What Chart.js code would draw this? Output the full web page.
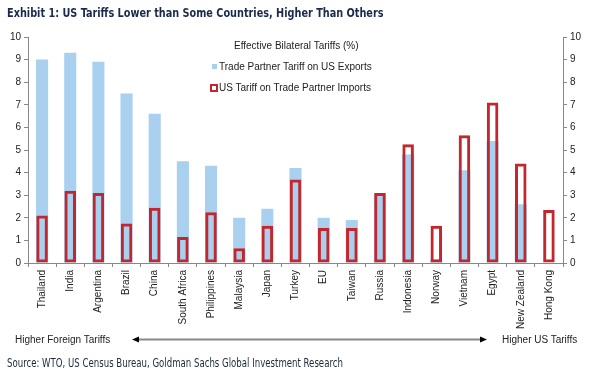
<!DOCTYPE html>
<html>
<head>
<meta charset="utf-8">
<script src="https://cdn.jsdelivr.net/npm/chart.js@4"></script>
<style>
  body { margin: 0; background: #fff; }
  #wrap { position: relative; width: 597px; height: 373px; overflow: hidden; }
  #chart { position: absolute; left: 0; top: 0; }
  .txt { position: absolute; white-space: nowrap; }
  #title { left: 7px; top: 5px; font: bold 13px "DejaVu Sans Condensed", sans-serif; color: #1b2a4a; transform: scaleX(0.83); transform-origin: 0 0; }
  #legend { left: 206px; top: 40px; font: 10px "Liberation Sans", Arial, sans-serif; color: #222; }
  #legend .hd { position: absolute; left: 28px; top: 0; }
  #legend .it { position: absolute; left: 0; }
  .sq1 { display: inline-block; width: 5px; height: 5px; background: #aad0f0; margin: 0 2px 1px 6px; }
  .sq2 { display: inline-block; width: 4px; height: 4px; border: 2px solid #c1272d; margin: 0 1px 0 4px; vertical-align: -1px; }
  .note { top: 334px; font: 10px "Liberation Sans", Arial, sans-serif; color: #222; }
  #src { left: 7px; top: 356px; font: 11.5px "DejaVu Sans Condensed", sans-serif; color: #1b2a3a; transform: scaleX(0.83); transform-origin: 0 0; }
  #arrow { position: absolute; left: 0; top: 0; }
</style>
</head>
<body>
<div id="wrap">
  <canvas id="chart" width="597" height="373"></canvas>
  <div class="txt" id="title">Exhibit 1: US Tariffs Lower than Some Countries, Higher Than Others</div>
  <div class="txt" id="legend">
    <div class="hd">Effective Bilateral Tariffs (%)</div>
    <div class="it" style="top:21px"><span class="sq1"></span>Trade Partner Tariff on US Exports</div>
    <div class="it" style="top:42px"><span class="sq2"></span>US Tariff on Trade Partner Imports</div>
  </div>
  <div class="txt note" style="left:15px">Higher Foreign Tariffs</div>
  <div class="txt note" style="left:502px">Higher US Tariffs</div>
  <svg id="arrow" width="597" height="373">
    <line x1="136" y1="339.5" x2="482" y2="339.5" stroke="#888" stroke-width="2"/>
    <polygon points="132,339.5 139,336.5 139,342.5" fill="#000"/>
    <polygon points="487,339.5 480,336.5 480,342.5" fill="#000"/>
  </svg>
  <div class="txt" id="src">Source: WTO, US Census Bureau, Goldman Sachs Global Investment Research</div>
</div>
<script>
const countries = ['Thailand', 'India', 'Argentina', 'Brazil', 'China', 'South Africa', 'Philippines',
  'Malaysia', 'Japan', 'Turkey', 'EU', 'Taiwan', 'Russia', 'Indonesia', 'Norway', 'Vietnam',
  'Egypt', 'New Zealand', 'Hong Kong'];
const partnerTariff = [9.0, 9.3, 8.9, 7.5, 6.6, 4.5, 4.3, 2.0, 2.4, 4.2, 2.0, 1.9, 3.05, 4.8, 0.15, 4.1, 5.4, 2.6, 0];
const usTariff = [2.1, 3.2, 3.1, 1.75, 2.45, 1.15, 2.25, 0.65, 1.65, 3.7, 1.55, 1.55, 3.1, 5.25, 1.65, 5.65, 7.1, 4.4, 2.35];
const yTicks = [0, 1, 2, 3, 4, 5, 6, 7, 8, 9, 10];

const axisColor = '#888';
const tickFont = { family: '"Liberation Sans", Arial, sans-serif', size: 10 };

function yAxis(pos, w) {
  return {
    position: pos,
    min: 0, max: 10,
    afterBuildTicks: s => { s.ticks = yTicks.map(v => ({ value: v })); },
    afterFit: s => { s.width = w; },
    grid: { drawOnChartArea: false, color: axisColor, tickLength: 4 },
    border: { color: axisColor },
    ticks: { color: '#222', font: tickFont, padding: 3 }
  };
}

new Chart(document.getElementById('chart'), {
  type: 'bar',
  data: {
    labels: countries,
    datasets: [
      {
        label: 'US Tariff on Trade Partner Imports',
        data: usTariff,
        backgroundColor: 'rgba(0,0,0,0)',
        borderColor: '#c1272d',
        borderWidth: 3,
        borderSkipped: false,
        grouped: false,
        order: 0,
        barPercentage: 0.41,
        categoryPercentage: 1
      },
      {
        label: 'Trade Partner Tariff on US Exports',
        data: partnerTariff,
        backgroundColor: '#aad0f0',
        grouped: false,
        order: 1,
        barPercentage: 0.43,
        categoryPercentage: 1
      }
    ]
  },
  options: {
    responsive: false,
    animation: false,
    layout: { padding: { top: 37, left: 0, right: 0, bottom: 0 } },
    plugins: { legend: { display: false }, tooltip: { enabled: false } },
    scales: {
      x: {
        afterFit: s => { s.height = 110; },
        grid: { drawOnChartArea: false, color: axisColor, tickLength: 4, offset: true },
        border: { color: axisColor },
        ticks: { color: '#222', font: tickFont, minRotation: 90, maxRotation: 90, autoSkip: false, padding: 3 }
      },
      y: yAxis('left', 28),
      y1: yAxis('right', 34)
    }
  }
});
</script>
</body>
</html>
